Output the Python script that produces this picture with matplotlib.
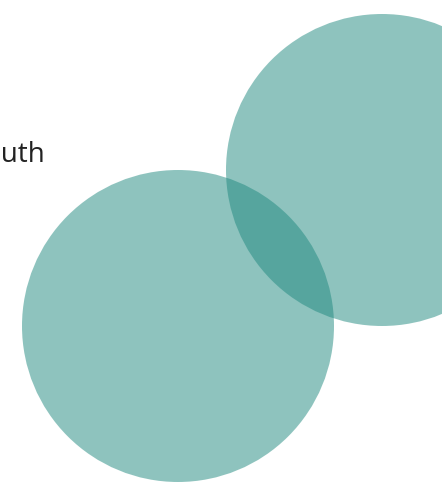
import matplotlib.pyplot as plt
from matplotlib.patches import Circle

# two overlapping sets (venn style), in pixel units of the canvas
set_names = ["South", "North"]
center_x = [178, 382]
center_y = [326, 170]
radius = [156, 156]
label_x = [45]
label_y = [162]

fig = plt.figure(figsize=(4.42, 4.87), dpi=100)
ax = fig.add_axes([0, 0, 1, 1])
ax.set_xlim(0, 442)
ax.set_ylim(487, 0)
ax.axis("off")

for cx, cy, r in zip(center_x, center_y, radius):
    ax.add_patch(Circle((cx, cy), r, facecolor="#1f897f", alpha=0.5,
                        edgecolor="none"))

ax.text(label_x[0], label_y[0], set_names[0], ha="right", va="baseline",
        fontsize=20, color="#222222", family=["Open Sans", "DejaVu Sans"])

plt.savefig("out.png", dpi=100)
plt.close()
